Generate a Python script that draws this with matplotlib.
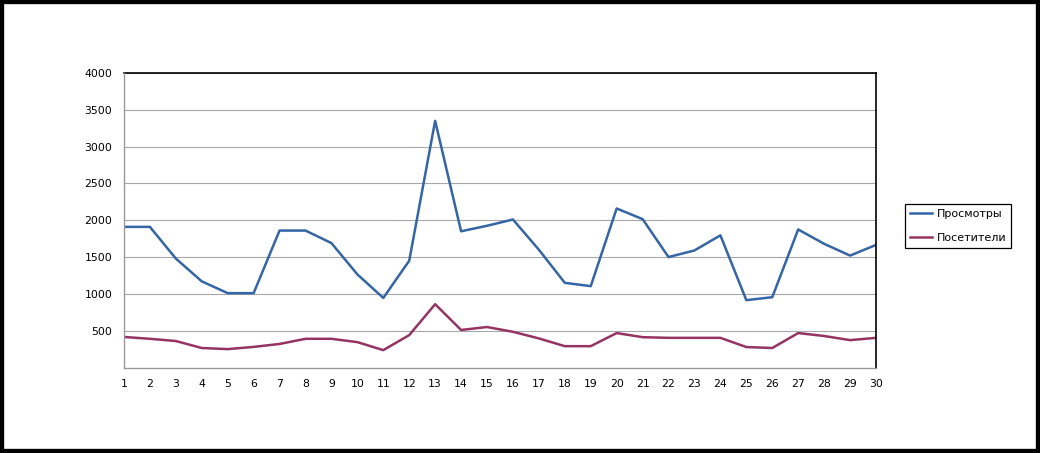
import matplotlib.pyplot as plt
from matplotlib.patches import Rectangle

# days of the month
days = list(range(1, 31))

# page views
views = [1910, 1910, 1480, 1170, 1010, 1010, 1860, 1860, 1690, 1265,
         945, 1450, 3350, 1850, 1925, 2010, 1600, 1150, 1105, 2160,
         2015, 1500, 1590, 1795, 915, 955, 1875, 1680, 1520, 1665]

# visitors
visitors = [415, 390, 360, 265, 250, 280, 320, 390, 390, 345,
            236, 440, 860, 510, 550, 485, 395, 290, 290, 468,
            412, 403, 403, 403, 278, 265, 468, 428, 372, 403]

yticks = [500, 1000, 1500, 2000, 2500, 3000, 3500, 4000]

fig = plt.figure(figsize=(10.4, 4.53), dpi=100)
ax = fig.add_axes([0.1192, 0.1887, 0.7231, 0.6502])

ax.plot(days, views, color='#3465A4', lw=1.8, label='Просмотры')
ax.plot(days, visitors, color='#953462', lw=1.8, label='Посетители')

ax.set_xlim(1, 30)
ax.set_ylim(0, 4000)
ax.set_xticks(days)
ax.set_yticks(yticks)
ax.tick_params(length=0, labelsize=7.8, colors='black')
ax.tick_params(axis='x', pad=8)
ax.tick_params(axis='y', pad=8.5)

ax.grid(True, axis='y', color='#A8A8A8', lw=0.8)
ax.set_axisbelow(True)

for side in ['top', 'right']:
    ax.spines[side].set_color('black')
    ax.spines[side].set_linewidth(1.2)
for side in ['left', 'bottom']:
    ax.spines[side].set_color('#999999')
    ax.spines[side].set_linewidth(1.0)
    ax.spines[side].set_zorder(3)

leg = ax.legend(loc='center left', bbox_to_anchor=(905 / 1040, 1 - 226 / 453),
                bbox_transform=fig.transFigure, borderaxespad=0, fancybox=False,
                framealpha=1, edgecolor='black', fontsize=8, handlelength=2.0,
                handletextpad=0.4, labelspacing=1.25, borderpad=0.45)
leg.get_frame().set_linewidth(0.9)

# thick black outer frame
fig.patches.append(Rectangle((0, 0), 1, 1, transform=fig.transFigure,
                             fill=False, edgecolor='black', lw=6))

fig.savefig('out.png', dpi=100)
